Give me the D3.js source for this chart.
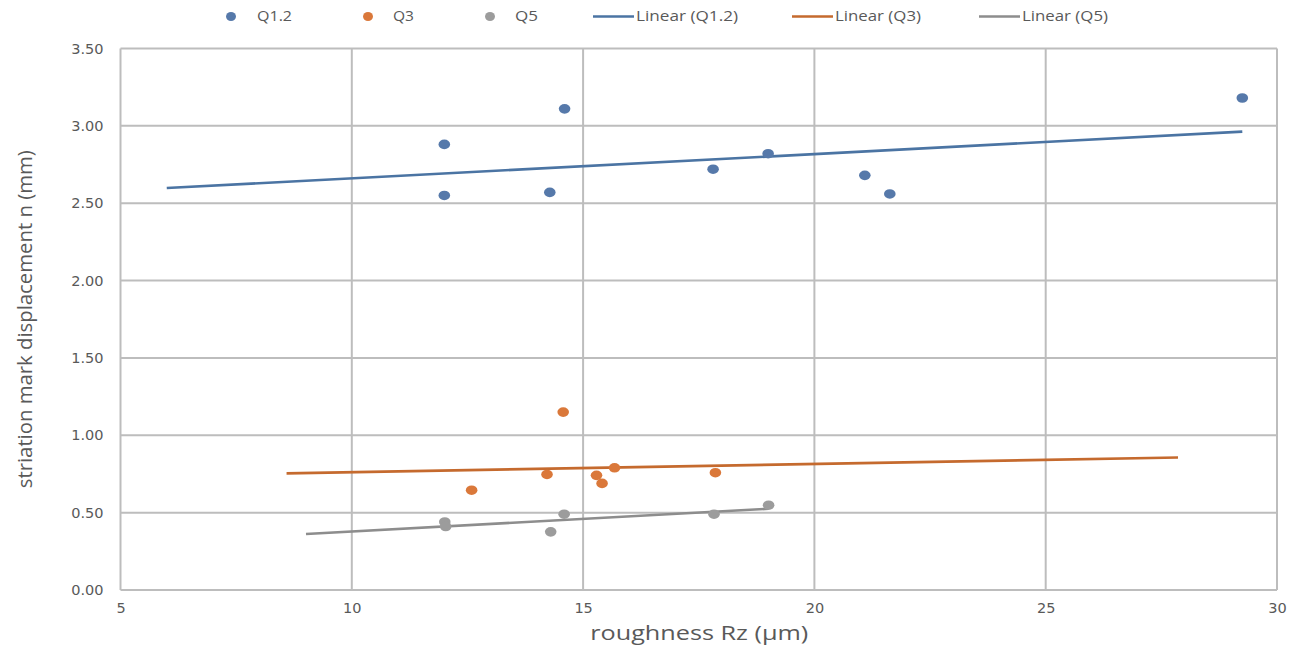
<!DOCTYPE html>
<html>
<head>
<meta charset="utf-8">
<script src="https://cdn.jsdelivr.net/npm/d3@7"></script>
<style>
  html, body { margin: 0; padding: 0; background: #fff; }
  svg { display: block; }
</style>
</head>
<body>
<svg id="chart" width="1300" height="649"></svg>
<script>
// Roughness Rz (µm) against striation mark displacement n (mm)
const seriesNames = ["Q1.2", "Q3", "Q5"];

const q12X = [12.0, 12.0, 14.6, 14.28, 17.81, 19.0, 21.09, 21.63, 29.25];
const q12Y = [2.88, 2.55, 3.11, 2.57, 2.72, 2.82, 2.68, 2.56, 3.18];

const q3X = [14.57, 14.22, 12.59, 15.29, 15.41, 15.68, 17.86];
const q3Y = [1.15, 0.747, 0.645, 0.741, 0.689, 0.79, 0.758];

const q5X = [12.01, 12.03, 14.3, 14.59, 17.83, 19.01];
const q5Y = [0.44, 0.41, 0.376, 0.49, 0.49, 0.548];

// Linear trendline forecast periods (backward / forward), in x units
const trendBackward = [6, 4, 3];
const trendForward = [0, 10, 0];

const xTicks = [5, 10, 15, 20, 25, 30];
const yTicks = [0, 0.5, 1.0, 1.5, 2.0, 2.5, 3.0, 3.5];

const dotColors = ["#5679aa", "#da783a", "#9c9c9c"];
const lineColors = ["#4b74a3", "#c56a2e", "#8d8d8d"];

const xTitle = "roughness Rz (μm)";
const yTitle = "striation mark displacement n (mm)";

const series = [
  { name: seriesNames[0], x: q12X, y: q12Y },
  { name: seriesNames[1], x: q3X, y: q3Y },
  { name: seriesNames[2], x: q5X, y: q5Y }
];

const svg = d3.select("#chart");
const margin = { left: 120.5, right: 1277, top: 48.5, bottom: 590 };

const x = d3.scaleLinear().domain([5, 30]).range([margin.left, margin.right]);
const y = d3.scaleLinear().domain([0, 3.5]).range([margin.bottom, margin.top]);

const gridColor = "#bdbdbd";
const textColor = "#595959";

// Gridlines (vertical and horizontal), including the frame
const grid = svg.append("g");
grid.selectAll("line.v").data(xTicks).join("line")
  .attr("x1", d => x(d)).attr("x2", d => x(d))
  .attr("y1", margin.top).attr("y2", margin.bottom)
  .attr("stroke", gridColor).attr("stroke-width", 2);
grid.selectAll("line.h").data(yTicks).join("line")
  .attr("x1", margin.left).attr("x2", margin.right)
  .attr("y1", d => y(d)).attr("y2", d => y(d))
  .attr("stroke", gridColor).attr("stroke-width", 2);

// Axes (labels only, the lines come from the grid)
const xAxis = d3.axisBottom(x).tickValues(xTicks).tickFormat(d3.format("d")).tickSize(0).tickPadding(13);
const yAxis = d3.axisLeft(y).tickValues(yTicks).tickFormat(d3.format(".2f")).tickSize(0).tickPadding(17);

const gx = svg.append("g").attr("transform", `translate(0,${margin.bottom})`).call(xAxis);
const gy = svg.append("g").attr("transform", `translate(${margin.left},0)`).call(yAxis);
[gx, gy].forEach(g => {
  g.select(".domain").remove();
  g.selectAll("text")
    .attr("fill", textColor)
    .style("font-family", "'DejaVu Sans', Verdana, sans-serif")
    .style("font-size", "14.5px");
});

// Least-squares trendline for each series
function linearFit(xs, ys) {
  const n = xs.length;
  const mx = d3.mean(xs), my = d3.mean(ys);
  let sxy = 0, sxx = 0;
  for (let i = 0; i < n; i++) {
    sxy += (xs[i] - mx) * (ys[i] - my);
    sxx += (xs[i] - mx) * (xs[i] - mx);
  }
  const slope = sxy / sxx;
  return { slope, intercept: my - slope * mx };
}

const trendG = svg.append("g");
series.forEach((s, i) => {
  const fit = linearFit(s.x, s.y);
  const x0 = d3.min(s.x) - trendBackward[i];
  const x1 = d3.max(s.x) + trendForward[i];
  const pts = [x0, x1].map(v => [v, fit.intercept + fit.slope * v]);
  trendG.append("path")
    .attr("d", d3.line().x(d => x(d[0])).y(d => y(d[1]))(pts))
    .attr("fill", "none")
    .attr("stroke", lineColors[i])
    .attr("stroke-width", 2.6);
});

// Scatter markers
const dotsG = svg.append("g");
series.forEach((s, i) => {
  dotsG.selectAll(null).data(d3.zip(s.x, s.y)).join("ellipse")
    .attr("cx", d => x(d[0]))
    .attr("cy", d => y(d[1]))
    .attr("rx", 5.8).attr("ry", 4.8)
    .attr("fill", dotColors[i]);
});

// Legend
const legendFont = "'Open Sans', 'Noto Sans', sans-serif";
const legendY = 16.5;
const markerItems = [
  { cx: 231, tx: 257, w: 35, label: seriesNames[0] },
  { cx: 368, tx: 393, w: 21, label: seriesNames[1] },
  { cx: 490, tx: 515, w: 23, label: seriesNames[2] }
];
const lineItems = [
  { x0: 593, x1: 634, tx: 636, w: 102, label: `Linear (${seriesNames[0]})` },
  { x0: 792, x1: 833, tx: 835, w: 86, label: `Linear (${seriesNames[1]})` },
  { x0: 979, x1: 1020, tx: 1022, w: 86, label: `Linear (${seriesNames[2]})` }
];
const legend = svg.append("g");
markerItems.forEach((m, i) => {
  legend.append("ellipse").attr("cx", m.cx).attr("cy", legendY)
    .attr("rx", 5).attr("ry", 4.6).attr("fill", dotColors[i]);
  legend.append("text").attr("x", m.tx).attr("y", legendY).attr("dy", "0.35em")
    .attr("fill", textColor).style("font-family", legendFont).style("font-size", "14px")
    .attr("textLength", m.w).attr("lengthAdjust", "spacingAndGlyphs")
    .text(m.label);
});
lineItems.forEach((l, i) => {
  legend.append("line").attr("x1", l.x0).attr("x2", l.x1)
    .attr("y1", legendY).attr("y2", legendY)
    .attr("stroke", lineColors[i]).attr("stroke-width", 2.5);
  legend.append("text").attr("x", l.tx).attr("y", legendY).attr("dy", "0.35em")
    .attr("fill", textColor).style("font-family", legendFont).style("font-size", "14px")
    .attr("textLength", l.w).attr("lengthAdjust", "spacingAndGlyphs")
    .text(l.label);
});

// Axis titles
svg.append("text")
  .attr("x", (margin.left + margin.right) / 2 + 0.5).attr("y", 640)
  .attr("text-anchor", "middle")
  .attr("fill", textColor)
  .style("font-family", legendFont).style("font-size", "20px")
  .attr("textLength", 218).attr("lengthAdjust", "spacingAndGlyphs")
  .text(xTitle);

svg.append("text")
  .attr("transform", `translate(32,${(margin.top + margin.bottom) / 2}) rotate(-90)`)
  .attr("text-anchor", "middle")
  .attr("fill", textColor)
  .style("font-family", legendFont).style("font-size", "20px")
  .attr("textLength", 338).attr("lengthAdjust", "spacingAndGlyphs")
  .text(yTitle);
</script>
</body>
</html>
